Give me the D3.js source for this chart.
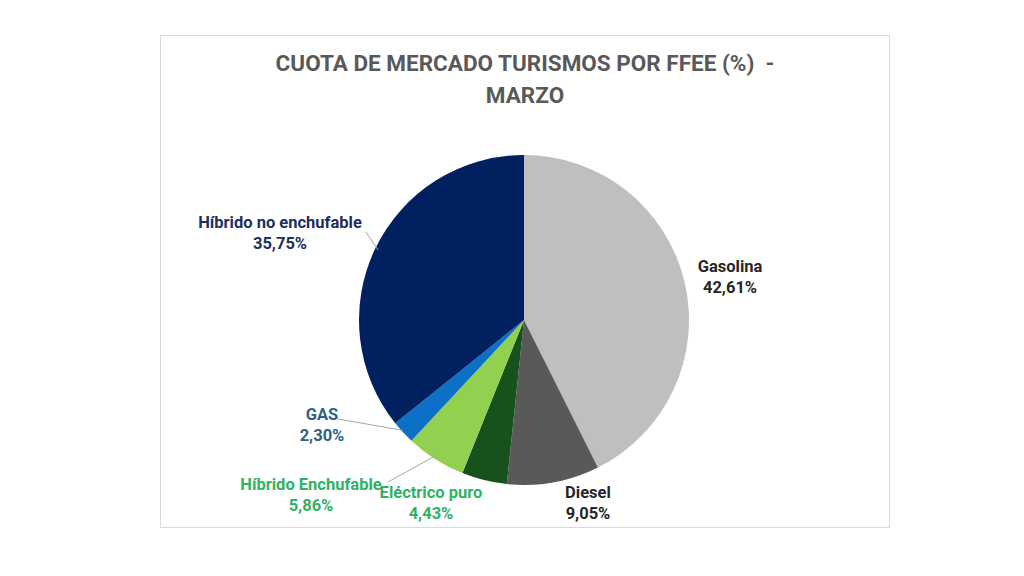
<!DOCTYPE html>
<html>
<head>
<meta charset="utf-8">
<script src="https://cdn.jsdelivr.net/npm/d3@7"></script>
<style>
  body { margin: 0; background: #fff; }
  svg text { font-family: "Roboto", sans-serif; white-space: pre; }
</style>
</head>
<body>
<svg id="chart" width="1024" height="576"></svg>
<script>
const categories = ["Gasolina", "Diesel", "Eléctrico puro", "Híbrido Enchufable", "GAS", "Híbrido no enchufable"]
const shares = [42.61, 9.05, 4.43, 5.86, 2.30, 35.75]
const sliceColors = ["#bfbfbf", "#595959", "#17521c", "#92d050", "#0b70c6", "#002060"]
const labelColors = ["#262626", "#262626", "#2fb264", "#2fb264", "#2f5f85", "#1f2f5c"]

// label anchor spots (center of text block) + optional leader line end
const labelPos = [
  {x: 730, y: 266},
  {x: 588, y: 492},
  {x: 431, y: 492},
  {x: 311, y: 484, line: [[388, 482], [435, 456]]},
  {x: 322, y: 414, line: [[338, 419], [401, 430]]},
  {x: 280, y: 222, line: [[366, 232], [378, 250]]}
]

const svg = d3.select("#chart")

// chart frame
svg.append("rect")
  .attr("x", 160.5).attr("y", 35.5)
  .attr("width", 729).attr("height", 492)
  .attr("fill", "#fff")
  .attr("stroke", "#d9d9d9")

const title = svg.append("text")
  .attr("text-anchor", "middle")
  .attr("fill", "#595959")
  .attr("font-size", 22.5)
  .attr("font-weight", "bold")
title.append("tspan").attr("x", 525).attr("y", 71).text("CUOTA DE MERCADO TURISMOS POR FFEE (%)  -")
title.append("tspan").attr("x", 525).attr("y", 103).text("MARZO")

const cx = 524, cy = 320, radius = 165

let pie = d3.pie().sort(null)
let arc = d3.arc().innerRadius(0).outerRadius(radius)

const g = svg.append("g").attr("transform", "translate(" + cx + "," + cy + ")")

g.selectAll("path")
  .data(pie(shares))
  .enter()
  .append("path")
  .attr("d", arc)
  .attr("fill", (d, i) => sliceColors[i])
  .attr("stroke", "none")

// leader lines
labelPos.forEach((p) => {
  if (p.line) {
    svg.append("line")
      .attr("x1", p.line[0][0]).attr("y1", p.line[0][1])
      .attr("x2", p.line[1][0]).attr("y2", p.line[1][1])
      .attr("stroke", "#a6a6a6")
      .attr("stroke-width", 1)
  }
})

const fmt = v => v.toFixed(2).replace(".", ",") + "%"

categories.forEach((c, i) => {
  const p = labelPos[i]
  const t = svg.append("text")
    .attr("text-anchor", "middle")
    .attr("fill", labelColors[i])
    .attr("font-size", 16.5)
    .attr("font-weight", "bold")
  t.append("tspan").attr("x", p.x).attr("y", p.y + 6).text(c)
  t.append("tspan").attr("x", p.x).attr("y", p.y + 27).text(fmt(shares[i]))
})
</script>
</body>
</html>
